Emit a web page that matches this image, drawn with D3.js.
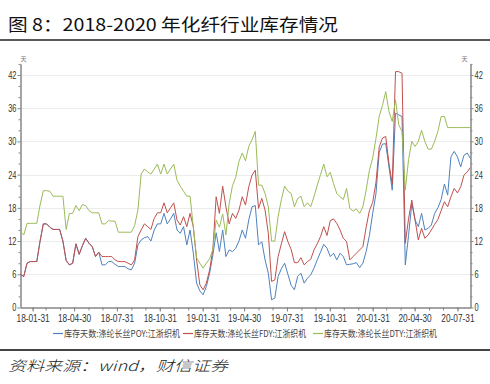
<!DOCTYPE html>
<html>
<head>
<meta charset="utf-8">
<script src="https://cdn.jsdelivr.net/npm/d3@7"></script>
<style>
  body { margin: 0; background: #fff; }
  svg text { font-family: "Noto Sans CJK SC", sans-serif; }
  .tick text { font-family: "Liberation Sans", Arial, sans-serif; }
</style>
</head>
<body>
<svg id="chart" width="490" height="384"></svg>
<script>
// weekly data, first week 2018-01-05
let startDate = "2018-01-05";

let poy = [6.0, 5.6, 8.0, 8.3, 8.3, 8.3, 12.0, 15.1, 15.1, 14.5,
  14.1, 14.1, 14.1, 12.0, 8.5, 7.7, 8.0, 11.5, 9.6, 11.2,
  12.5, 11.6, 11.0, 9.2, 10.0, 7.7, 7.7, 8.3, 8.3, 7.8,
  7.4, 7.4, 7.4, 7.0, 6.8, 8.0, 11.3, 12.2, 12.6, 12.8,
  12.0, 14.0, 15.1, 15.1, 17.0, 15.1, 16.0, 17.0, 14.0, 13.4,
  14.6, 11.3, 14.0, 9.8, 4.4, 3.0, 2.3, 3.8, 6.2, 9.5,
  13.5, 10.1, 14.0, 9.2, 10.4, 10.1, 10.7, 12.0, 14.0, 12.5,
  15.8, 18.2, 18.4, 11.3, 11.9, 8.6, 6.2, 1.4, 1.7, 5.6,
  7.0, 8.0, 6.0, 4.0, 3.2, 5.6, 6.2, 4.4, 5.3, 5.9,
  7.1, 8.6, 10.0, 11.4, 10.7, 9.2, 9.8, 8.6, 9.8, 9.2,
  7.7, 7.8, 7.9, 8.1, 7.2, 8.0, 10.1, 13.0, 17.0, 20.5,
  28.0, 29.5, 29.6, 25.4, 21.2, 35.1, 34.8, 34.5, 7.7, 13.0,
  18.8, 15.8, 14.6, 17.0, 14.0, 14.3, 14.9, 17.0, 18.0, 19.5,
  22.3, 20.3, 27.2, 28.2, 27.2, 25.4, 27.5, 27.9, 26.9];

let fdy = [6.0, 5.6, 8.0, 8.3, 8.3, 8.3, 12.0, 15.1, 15.1, 14.5,
  14.1, 14.1, 14.1, 12.0, 8.5, 7.7, 8.0, 11.5, 9.6, 11.2,
  12.5, 11.6, 11.0, 9.2, 10.0, 9.2, 9.2, 9.2, 9.2, 8.6,
  8.3, 8.3, 8.3, 8.0, 7.7, 8.6, 12.8, 14.0, 15.1, 14.6,
  14.1, 16.1, 17.1, 17.1, 18.9, 17.1, 18.0, 18.9, 15.8, 14.9,
  16.4, 14.6, 17.0, 14.6, 8.6, 4.1, 3.2, 4.4, 6.8, 10.5,
  20.0, 17.0, 21.9, 18.2, 15.1, 17.0, 16.1, 17.6, 20.0, 18.5,
  21.8, 23.9, 24.8, 17.9, 19.7, 17.6, 13.4, 4.7, 5.0, 9.2,
  11.5, 13.7, 11.9, 10.5, 8.1, 8.1, 9.0, 7.7, 8.3, 8.7,
  10.4, 11.5, 12.8, 14.6, 13.0, 15.7, 16.0, 15.2, 14.0, 12.5,
  11.9, 8.6, 9.2, 9.8, 10.4, 11.0, 14.5, 17.5, 19.0, 22.5,
  29.0, 30.6, 30.9, 26.0, 22.3, 42.6, 42.6, 42.3, 11.6, 16.0,
  19.4, 15.8, 12.2, 14.3, 12.5, 13.1, 14.0, 15.0, 15.9, 17.5,
  19.1, 18.2, 20.0, 21.5, 20.7, 21.8, 23.9, 24.5, 25.3];

let dty = [13.7, 13.1, 15.2, 15.2, 15.2, 15.2, 18.5, 21.1, 21.1, 21.0,
  20.1, 20.1, 20.1, 20.1, 14.1, 17.0, 17.0, 18.4, 17.5, 18.6,
  18.4, 17.5, 17.1, 17.1, 17.1, 15.1, 15.1, 15.7, 15.6, 15.6,
  13.6, 13.6, 13.6, 13.6, 13.6, 14.8, 17.6, 24.1, 25.0, 24.5,
  24.1, 25.0, 25.9, 24.1, 25.9, 24.1, 25.0, 25.9, 23.0, 21.9,
  21.0, 20.1, 20.1, 14.5, 9.0, 8.0, 7.1, 8.0, 8.8, 10.5,
  15.8, 14.5, 16.9, 13.1, 18.8, 22.0, 23.5, 26.4, 27.9, 26.5,
  29.1, 30.3, 31.8, 22.1, 22.1, 20.6, 18.2, 12.0, 12.0, 16.4,
  19.5, 21.9, 21.0, 20.6, 18.2, 19.7, 20.1, 18.2, 18.9, 18.2,
  20.0, 22.1, 24.0, 25.9, 23.6, 24.4, 22.4, 20.6, 20.0, 19.5,
  21.5, 17.9, 17.4, 17.8, 17.0, 18.2, 21.2, 24.8, 27.0, 30.5,
  34.5, 36.5, 39.0, 35.4, 33.6, 37.5, 33.0, 31.8, 21.2, 26.7,
  30.0, 29.1, 30.0, 32.0, 30.0, 28.6, 28.6, 30.0, 31.8, 34.5,
  34.5, 32.5, 32.5, 32.5, 32.5, 32.5, 32.5, 32.5, 32.5];

let seriesNames = ["库存天数:涤纶长丝POY:江浙织机", "库存天数:涤纶长丝FDY:江浙织机", "库存天数:涤纶长丝DTY:江浙织机"];
let colors = ["#4f81bd", "#c0504d", "#9bbb59"];
let yTicks = [0, 6, 12, 18, 24, 30, 36, 42];
let yMinor = [2, 4, 8, 10, 14, 16, 20, 22, 26, 28, 32, 34, 38, 40, 44];
let title = "图 8：2018-2020 年化纤行业库存情况";
let source = "资料来源：wind，财信证券";

let svg = d3.select("#chart");
let plotL = 20.5, plotR = 470.5, plotT = 63.9, plotB = 307.5;

let parse = d3.timeParse("%Y-%m-%d");
let d0 = parse(startDate);
let dates = poy.map((d, i) => d3.timeDay.offset(d0, 7 * i));

let x = d3.scaleTime().domain(d3.extent(dates)).range([plotL, plotR]);
let y = d3.scaleLinear().domain([0, 44]).range([plotB, plotT]);

// title and rules
svg.append("text").attr("x", 8).attr("y", 31)
  .attr("font-size", 17).attr("font-weight", 400).attr("fill", "#111")
  .attr("textLength", 330).attr("lengthAdjust", "spacingAndGlyphs")
  .text(title);
svg.append("line").attr("x1", 0).attr("x2", 490).attr("y1", 40).attr("y2", 40)
  .attr("stroke", "#222").attr("stroke-width", 1.5);
svg.append("line").attr("x1", 0).attr("x2", 490).attr("y1", 350).attr("y2", 350)
  .attr("stroke", "#444").attr("stroke-width", 2);
svg.append("text").attr("x", 8).attr("y", 371)
  .attr("font-size", 14).attr("font-style", "italic").attr("font-weight", 300).attr("fill", "#222")
  .attr("textLength", 220).attr("lengthAdjust", "spacingAndGlyphs")
  .text(source);

// grid
svg.append("g").selectAll("line")
  .data(yTicks.filter(d => d > 0))
  .enter().append("line")
  .attr("x1", plotL).attr("x2", plotR)
  .attr("y1", d => Math.round(y(d)) + 0.5).attr("y2", d => Math.round(y(d)) + 0.5)
  .attr("stroke", "#ececec");

// month-end ticks
let monthEnds = d3.timeMonth.range(new Date(2018, 1, 1), new Date(2020, 8, 1))
  .map(d => d3.timeDay.offset(d, -1))
  .filter(d => d <= dates[dates.length - 1]);
let labelled = monthEnds.filter(d => d.getMonth() % 3 === 0);
let fmt = d3.timeFormat("%y-%m-%d");

// narrow tick labels (condensed look of the original)
function styleAxis(g) {
  g.selectAll("path, line").attr("stroke", "#868686");
  g.selectAll("text").attr("fill", "#333").attr("font-size", 10.5)
    .attr("textLength", function () { return this.textContent.length * 4.15; })
    .attr("lengthAdjust", "spacingAndGlyphs");
}

svg.append("g").attr("transform", `translate(0,${plotB})`)
  .call(d3.axisBottom(x).tickValues(monthEnds).tickSize(3).tickFormat("").tickSizeOuter(0))
  .call(styleAxis);
svg.append("g").attr("transform", `translate(0,${plotB})`)
  .call(d3.axisBottom(x).tickValues(labelled).tickSize(4).tickPadding(3.5).tickFormat(fmt).tickSizeOuter(0))
  .call(styleAxis);

[[plotL, d3.axisLeft], [plotR, d3.axisRight]].forEach(([px, ax]) => {
  svg.append("g").attr("transform", `translate(${px},0)`)
    .call(ax(y).tickValues(yMinor).tickSize(2).tickFormat("").tickSizeOuter(0))
    .call(styleAxis);
  svg.append("g").attr("transform", `translate(${px},0)`)
    .call(ax(y).tickValues(yTicks).tickSize(3).tickPadding(1).tickSizeOuter(0))
    .call(styleAxis);
});

// unit labels
svg.append("text").attr("x", 23.5).attr("y", 61).attr("text-anchor", "middle")
  .attr("font-size", 6).attr("fill", "#777").text("天");
svg.append("text").attr("x", 464.5).attr("y", 61).attr("text-anchor", "middle")
  .attr("font-size", 6).attr("fill", "#777").text("天");

// lines
let line = d3.line().x((d, i) => x(dates[i])).y(d => y(d));
[poy, fdy, dty].forEach((s, k) => {
  svg.append("path").datum(s)
    .attr("d", line).attr("fill", "none")
    .attr("stroke", colors[k]).attr("stroke-width", 1)
    .attr("stroke-linejoin", "round");
});

// legend
let legendX = [53, 183, 313];
let legendLen = [116, 112, 113];
let lg = svg.append("g").selectAll("g").data(seriesNames).enter().append("g")
  .attr("transform", (d, i) => `translate(${legendX[i]},333)`);
lg.append("line").attr("x1", 0).attr("x2", 10).attr("y1", 0.5).attr("y2", 0.5)
  .attr("stroke", (d, i) => colors[i]).attr("stroke-width", 1.2);
lg.append("text").attr("x", 11).attr("y", 3.5)
  .attr("font-size", 9.5).attr("fill", "#444")
  .attr("textLength", (d, i) => legendLen[i]).attr("lengthAdjust", "spacingAndGlyphs")
  .text(d => d);
</script>
</body>
</html>
